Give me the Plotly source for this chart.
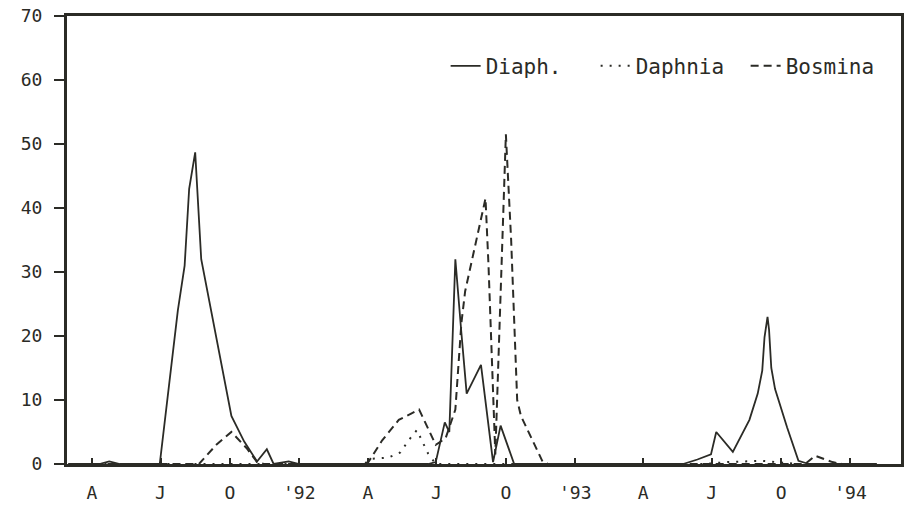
import plotly.graph_objects as go

# Zooplankton densities, three seasons of sampling (1991-1994)
diaph_dates = [
    "1991-03-01", "1991-04-11", "1991-04-24", "1991-05-08", "1991-06-30",
    "1991-07-24", "1991-08-02", "1991-08-08", "1991-08-16", "1991-08-24",
    "1991-10-03", "1991-10-20", "1991-11-06", "1991-11-19", "1991-11-28",
    "1991-12-18", "1992-01-01", "1992-06-20", "1992-06-30", "1992-07-12",
    "1992-07-18", "1992-07-26", "1992-08-03", "1992-08-10", "1992-08-29",
    "1992-09-14", "1992-09-24", "1992-10-12", "1993-05-24", "1993-06-12",
    "1993-06-30", "1993-07-07", "1993-07-29", "1993-08-20", "1993-08-31",
    "1993-09-06", "1993-09-09", "1993-09-13", "1993-09-15", "1993-09-18",
    "1993-09-23", "1993-10-09", "1993-10-24", "1993-11-07", "1994-02-05",
]
diaph = [
    0, 0, 0.4, 0, 0,
    24, 31, 43, 48.7, 32,
    7.5, 3.5, 0.4, 2.3, 0,
    0.4, 0, 0, 0.3, 6.5,
    5, 32, 20.5, 11, 15.5,
    0.3, 6, 0, 0, 0.7,
    1.5, 5, 1.9, 6.9, 11,
    14.6, 19.8, 23, 21, 15,
    11.7, 5.7, 0.5, 0, 0,
]

daphnia_dates = [
    "1991-03-01", "1992-03-27", "1992-04-05", "1992-04-28", "1992-05-14",
    "1992-05-25", "1992-06-05", "1992-06-20", "1992-06-30", "1993-06-20",
    "1993-07-22", "1993-09-06", "1993-10-23", "1994-02-05",
]
daphnia = [
    0, 0, 0.8, 1, 1.8,
    3.7, 5.3, 1.6, 0, 0,
    0.3, 0.5, 0, 0,
]

bosmina_dates = [
    "1991-03-01", "1991-08-21", "1991-09-13", "1991-10-03", "1991-10-23",
    "1991-11-06", "1991-11-15", "1992-03-31", "1992-04-20", "1992-05-12",
    "1992-06-08", "1992-06-30", "1992-07-13", "1992-07-26", "1992-08-03",
    "1992-08-08", "1992-09-04", "1992-09-08", "1992-09-17", "1992-10-01",
    "1992-10-08", "1992-10-16", "1992-10-21", "1992-11-19", "1992-11-26",
    "1993-11-02", "1993-11-15", "1993-12-08", "1993-12-21", "1994-02-05",
]
bosmina = [
    0, 0, 3, 5, 2.5,
    0.3, 0, 0, 3.7, 6.9,
    8.5, 3, 4, 8.5, 22,
    27, 41.5, 31, 1.5, 51.5,
    35, 10, 7.5, 0.3, 0,
    0, 1.3, 0.3, 0, 0,
]

x_tick_dates = [
    "1991-04-01", "1991-07-01", "1991-10-01", "1992-01-01",
    "1992-04-01", "1992-07-01", "1992-10-01", "1993-01-01",
    "1993-04-01", "1993-07-01", "1993-10-01", "1994-01-01",
]
x_tick_labels = ["A", "J", "O", "'92", "A", "J", "O", "'93", "A", "J", "O", "'94"]
y_ticks = [0, 10, 20, 30, 40, 50, 60, 70]

INK = "#2b2b26"
FONT = "DejaVu Sans Mono"

fig = go.Figure()
fig.add_trace(go.Scatter(
    x=diaph_dates, y=diaph, mode="lines", name="Diaph.",
    line=dict(color=INK, width=1.8),
))
fig.add_trace(go.Scatter(
    x=daphnia_dates, y=daphnia, mode="lines", name="Daphnia",
    line=dict(color=INK, width=2, dash="2px,7px"),
))
fig.add_trace(go.Scatter(
    x=bosmina_dates, y=bosmina, mode="lines", name="Bosmina",
    line=dict(color=INK, width=2, dash="8px,5px"),
))

fig.update_layout(
    width=905, height=521,
    margin=dict(l=67, r=1, t=16, b=57),
    paper_bgcolor="white", plot_bgcolor="white",
    font=dict(family=FONT, color=INK),
    showlegend=True,
    legend=dict(
        orientation="h", x=0.454, xanchor="left", y=0.888, yanchor="middle",
        font=dict(family=FONT, size=21, color=INK),
        bgcolor="rgba(0,0,0,0)", borderwidth=0,
        entrywidth=105, entrywidthmode="pixels",
    ),
)

fig.update_xaxes(
    type="date",
    range=["1991-02-27", "1994-03-09"],
    tickvals=x_tick_dates, ticktext=x_tick_labels,
    ticks="inside", ticklen=6, tickwidth=1.5, tickcolor=INK,
    tickfont=dict(family=FONT, size=18, color=INK),
    ticklabelstandoff=10,
    showgrid=False, zeroline=False,
    showline=True, linewidth=3, linecolor=INK, mirror=True,
)
fig.update_yaxes(
    range=[0, 70],
    tickvals=y_ticks, ticktext=[str(v) for v in y_ticks],
    ticks="outside", ticklen=10, tickwidth=2, tickcolor=INK,
    tickfont=dict(family=FONT, size=18, color=INK),
    ticklabelstandoff=8,
    showgrid=False, zeroline=False,
    showline=True, linewidth=3, linecolor=INK, mirror=True,
)

fig.write_html("out.html")
